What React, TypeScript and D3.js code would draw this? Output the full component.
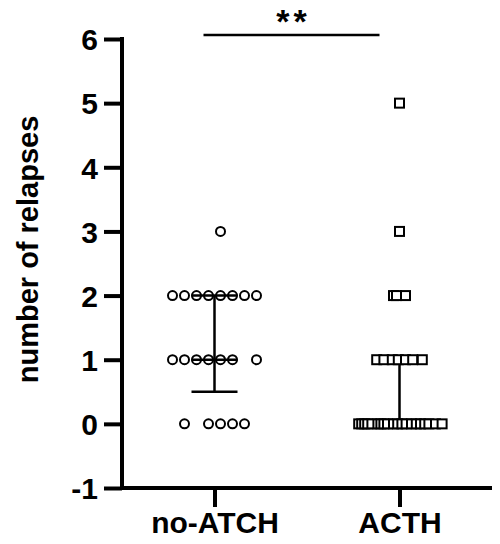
import { useEffect, useRef } from 'react';
import * as d3 from 'd3';

// ------------------------------------------------------------
// data
// ------------------------------------------------------------
const categories = ['no-ATCH', 'ACTH'];

// no-ATCH group (circles): value and swarm slot
const noActhValues = [3, 2, 2, 2, 2, 2, 2, 2, 2, 1, 1, 1, 1, 1, 1, 1, 0, 0, 0, 0, 0];
const noActhSlots = [
  0.5,
  -3.5, -2.5, -1.5, -0.5, 0.5, 1.5, 2.5, 3.5,
  -3.5, -2.5, -1.5, -0.5, 0.5, 1.5, 3.5,
  -2.5, -0.5, 0.5, 1.5, 2.5,
];

// ACTH group (squares): value and swarm slot
const acthValues = [
  5, 3, 2, 2, 2,
  1, 1, 1, 1, 1, 1, 1,
  0, 0, 0, 0, 0, 0, 0, 0, 0, 0, 0, 0, 0, 0, 0, 0, 0, 0, 0, 0,
];
const acthSlots = [
  0, 0, -0.5, -0.25, 0.5,
  -1.9, -1.3, -0.6, -0.1, 0.5, 1.1, 1.9,
  -3.4, -3.15, -2.9, -2.65, -2.3, -1.8, -1.55, -1.3, -1.0, -0.5,
  -0.15, 0.2, 0.55, 1.0, 1.4, 1.75, 2.1, 2.45, 3.0, 3.55,
];

const yTicks = [-1, 0, 1, 2, 3, 4, 5, 6];
const yLabel = 'number of relapses';
const significance = '**';

// Prism style quartile: position (n + 1) * p
const prismQuantile = (vals: number[], p: number) => {
  const s = [...vals].sort((a, b) => a - b);
  const pos = (s.length + 1) * p;
  const lo = Math.max(1, Math.floor(pos));
  const hi = Math.min(s.length, Math.ceil(pos));
  const frac = pos - Math.floor(pos);
  return s[lo - 1] + (s[hi - 1] - s[lo - 1]) * frac;
};

const App = () => {
  const svgRef = useRef<SVGSVGElement>(null);

  useEffect(() => {
    const width = 500;
    const height = 544;
    const margin = { top: 39, right: 8, bottom: 56, left: 122 };
    const font = '"Liberation Sans", Arial, sans-serif';

    const svg = d3.select(svgRef.current);
    svg.selectAll('*').remove();
    svg.attr('width', width).attr('height', height)
      .style('display', 'block')
      .style('background', '#fff');

    // scales
    const y = d3.scaleLinear()
      .domain([-1, 6])
      .range([height - margin.bottom, margin.top]);

    const x = d3.scalePoint<string>()
      .domain(categories)
      .range([margin.left, width - margin.right])
      .padding(0.5);

    const jitter = d3.scaleLinear().domain([-1, 1]).range([-12, 12]);

    // y axis
    const yAxis = svg.append('g')
      .attr('transform', `translate(${margin.left},0)`)
      .call(d3.axisLeft(y).tickValues(yTicks).tickSize(18).tickPadding(6).tickFormat((d) => String(d)));
    yAxis.select('.domain').attr('stroke', '#000').attr('stroke-width', 4)
      .attr('d', `M0,${y(6) - 2}V${y(-1) + 2}`);
    yAxis.selectAll('.tick line').attr('stroke', '#000').attr('stroke-width', 4);
    yAxis.selectAll('.tick text')
      .attr('fill', '#000')
      .attr('dy', '0.36em')
      .style('font-family', font)
      .style('font-weight', 'bold')
      .style('font-size', '30px');

    // x axis
    const xAxis = svg.append('g')
      .attr('transform', `translate(0,${y(-1)})`)
      .call(d3.axisBottom(x).tickSize(19).tickPadding(5));
    xAxis.select('.domain').attr('stroke', '#000').attr('stroke-width', 4)
      .attr('d', `M${margin.left - 2},0H${width - margin.right}`);
    xAxis.selectAll('.tick line').attr('stroke', '#000').attr('stroke-width', 4);
    xAxis.selectAll('.tick text')
      .attr('fill', '#000')
      .style('font-family', font)
      .style('font-weight', 'bold')
      .style('font-size', '30px');

    // y title
    svg.append('text')
      .attr('transform', `translate(38,${(y(6) + y(-1)) / 2 - 14}) rotate(-90)`)
      .attr('text-anchor', 'middle')
      .style('font-family', font)
      .style('font-weight', 'bold')
      .style('font-size', '29px')
      .text(yLabel);

    // error bars: median with interquartile range
    const groups = [
      { name: categories[0], values: noActhValues },
      { name: categories[1], values: acthValues },
    ];
    groups.forEach((g) => {
      const cx = x(g.name)!;
      const q1 = prismQuantile(g.values, 0.25);
      const med = prismQuantile(g.values, 0.5);
      const q3 = prismQuantile(g.values, 0.75);
      const eb = svg.append('g').attr('stroke', '#000').attr('stroke-width', 2.5);
      eb.append('line').attr('x1', cx).attr('x2', cx).attr('y1', y(q3)).attr('y2', y(q1));
      [q1, med, q3].forEach((v) => {
        eb.append('line')
          .attr('x1', cx - 23).attr('x2', cx + 23)
          .attr('y1', y(v)).attr('y2', y(v));
      });
    });

    // no-ATCH circles
    const cx0 = x(categories[0])!;
    svg.append('g')
      .selectAll('circle')
      .data(noActhValues.map((v, i) => ({ v, s: noActhSlots[i] })))
      .join('circle')
      .attr('cx', (d) => cx0 + jitter(d.s))
      .attr('cy', (d) => y(d.v))
      .attr('r', 4.5)
      .attr('fill', 'none')
      .attr('stroke', '#000')
      .attr('stroke-width', 2);

    // ACTH squares
    const cx1 = x(categories[1])!;
    svg.append('g')
      .selectAll('rect')
      .data(acthValues.map((v, i) => ({ v, s: acthSlots[i] })))
      .join('rect')
      .attr('x', (d) => cx1 + jitter(d.s) - 4.5)
      .attr('y', (d) => y(d.v) - 4.5)
      .attr('width', 9)
      .attr('height', 9)
      .attr('fill', '#fff')
      .attr('stroke', '#000')
      .attr('stroke-width', 2);

    // significance bracket
    const sx0 = cx0 - 11;
    const sx1 = cx1 - 20;
    svg.append('line')
      .attr('x1', sx0).attr('x2', sx1)
      .attr('y1', y(6) - 4).attr('y2', y(6) - 4)
      .attr('stroke', '#000')
      .attr('stroke-width', 2.5);
    svg.append('text')
      .attr('x', (sx0 + sx1) / 2 + 2)
      .attr('y', y(6) - 6)
      .attr('text-anchor', 'middle')
      .attr('letter-spacing', 4)
      .style('font-family', font)
      .style('font-weight', 'bold')
      .style('font-size', '34px')
      .text(significance);
  }, []);

  return (
    <div style={{ margin: -8 }}>
      <svg ref={svgRef}></svg>
    </div>
  );
};

export default App;
